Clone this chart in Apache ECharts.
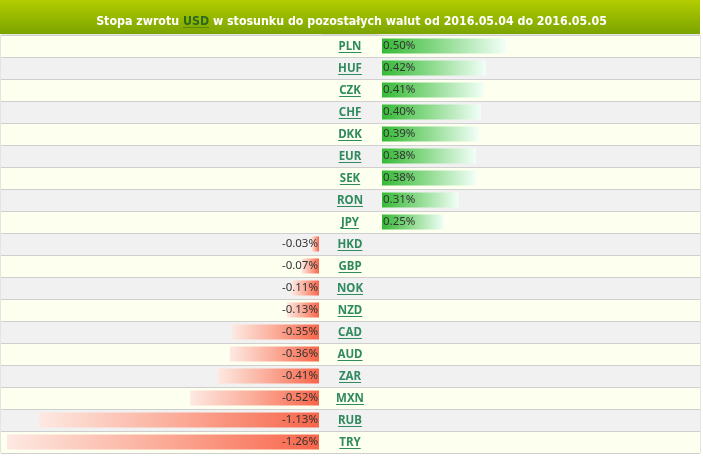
<!DOCTYPE html>
<html>
<head>
<meta charset="utf-8">
<script src="https://cdn.jsdelivr.net/npm/echarts@6/dist/echarts.min.js"></script>
<style>
html,body{margin:0;padding:0;background:#fff;}
#chart{width:703px;height:459px;}
</style>
</head>
<body>
<div id="chart"></div>
<script>
const titleText = 'Stopa zwrotu ';
const titleBase = 'USD';
const titleRest = ' w stosunku do pozostałych walut od 2016.05.04 do 2016.05.05';
const currencies = ['PLN','HUF','CZK','CHF','DKK','EUR','SEK','RON','JPY','HKD','GBP','NOK','NZD','CAD','AUD','ZAR','MXN','RUB','TRY'];
const returns = [0.50,0.42,0.41,0.40,0.39,0.38,0.38,0.31,0.25,-0.03,-0.07,-0.11,-0.13,-0.35,-0.36,-0.41,-0.52,-1.13,-1.26];

const positive = returns.map(v => v > 0 ? v : '-');
const negative = returns.map(v => v < 0 ? v : '-');

function underline(color, at) {
  return new echarts.graphic.LinearGradient(0, 0, 0, 1, [
    {offset: 0, color: 'rgba(0,0,0,0)'},
    {offset: at, color: 'rgba(0,0,0,0)'},
    {offset: at, color: color},
    {offset: 1, color: color}
  ]);
}

const chart = echarts.init(document.getElementById('chart'), null, {renderer: 'canvas'});
const TOP = 35, H = 418;
const hiddenCat = {type: 'category', data: currencies, inverse: true, show: false};
const titleFont = '"DejaVu Sans Condensed", "Liberation Sans Narrow", sans-serif';

const option = {
  animation: false,
  backgroundColor: '#ffffff',
  graphic: [{
    type: 'rect', left: 0, top: 0, z: -1,
    shape: {width: 700, height: 34},
    style: {fill: new echarts.graphic.LinearGradient(0, 0, 0, 1, [
      {offset: 0, color: '#b3cd00'},
      {offset: 1, color: '#7ba400'}
    ])}
  }],
  title: {
    left: 'center', top: 8,
    text: '{a|' + titleText + '}{u|' + titleBase + '}{a|' + titleRest + '}',
    textStyle: {
      rich: {
        a: {color: '#ffffff', fontSize: 12.3, fontWeight: 'bold', fontFamily: titleFont, lineHeight: 17},
        u: {color: '#2b6a1c', fontSize: 12.3, fontWeight: 'bold', fontFamily: titleFont, lineHeight: 17,
            backgroundColor: underline('#2b6a1c', 0.92)}
      }
    }
  },
  grid: [
    {left: 1, top: TOP, width: 699, height: H, show: true, borderColor: '#c9c9c9', borderWidth: 1, backgroundColor: 'transparent'},
    {left: 322, top: TOP, width: 56, height: H, show: true, borderColor: '#c9c9c9', borderWidth: 1, backgroundColor: 'transparent'},
    {left: 2, top: TOP, width: 317, height: H},
    {left: 382, top: TOP, width: 317, height: H}
  ],
  xAxis: [
    {gridIndex: 0, type: 'value', min: 0, max: 1, show: false},
    {gridIndex: 1, type: 'value', min: 0, max: 1, show: false},
    {gridIndex: 2, type: 'value', min: -1.28, max: 0, show: false},
    {gridIndex: 3, type: 'value', min: 0, max: 1.28, show: false}
  ],
  yAxis: [
    {gridIndex: 0, type: 'category', data: currencies, inverse: true,
     axisLine: {show: false}, axisTick: {show: false}, axisLabel: {show: false},
     splitArea: {show: true, areaStyle: {color: ['#fdffef', '#f1f1f1']}},
     splitLine: {show: true, lineStyle: {color: '#cfcfcf', width: 1}}},
    {gridIndex: 1, type: 'category', data: currencies, inverse: true,
     axisLine: {show: false}, axisTick: {show: false},
     axisLabel: {show: true, margin: -28, align: 'center',
       formatter: v => '{c|' + v + '}',
       rich: {c: {color: '#2f8a5e', fontSize: 11.5, fontWeight: 'bold', fontFamily: '"Noto Sans", sans-serif', lineHeight: 15, padding: [2, 0, 0, 0],
                  backgroundColor: underline('#2f8a5e', 0.91)}}}},
    Object.assign({gridIndex: 2}, hiddenCat),
    Object.assign({gridIndex: 3}, hiddenCat)
  ],
  series: [
    {type: 'bar', xAxisIndex: 2, yAxisIndex: 2, data: negative, barWidth: 15,
     itemStyle: {color: new echarts.graphic.LinearGradient(0, 0, 1, 0, [
       {offset: 0, color: '#fde9e2'},
       {offset: 0.5, color: '#fbab98'},
       {offset: 1, color: '#f8654a'}
     ])},
     label: {show: true, position: 'insideRight', distance: 1, color: '#333', fontSize: 11.5, fontFamily: '"Noto Sans", sans-serif',
             formatter: p => p.value.toFixed(2) + '%'}},
    {type: 'bar', xAxisIndex: 3, yAxisIndex: 3, data: positive, barWidth: 15,
     itemStyle: {color: new echarts.graphic.LinearGradient(0, 0, 1, 0, [
       {offset: 0, color: '#35ba35'},
       {offset: 0.5, color: '#92dc92'},
       {offset: 1, color: '#f2fff8'}
     ])},
     label: {show: true, position: 'insideLeft', distance: 1, color: '#333', fontSize: 11.5, fontFamily: '"Noto Sans", sans-serif',
             formatter: p => p.value.toFixed(2) + '%'}}
  ]
};
chart.setOption(option);
</script>
</body>
</html>
